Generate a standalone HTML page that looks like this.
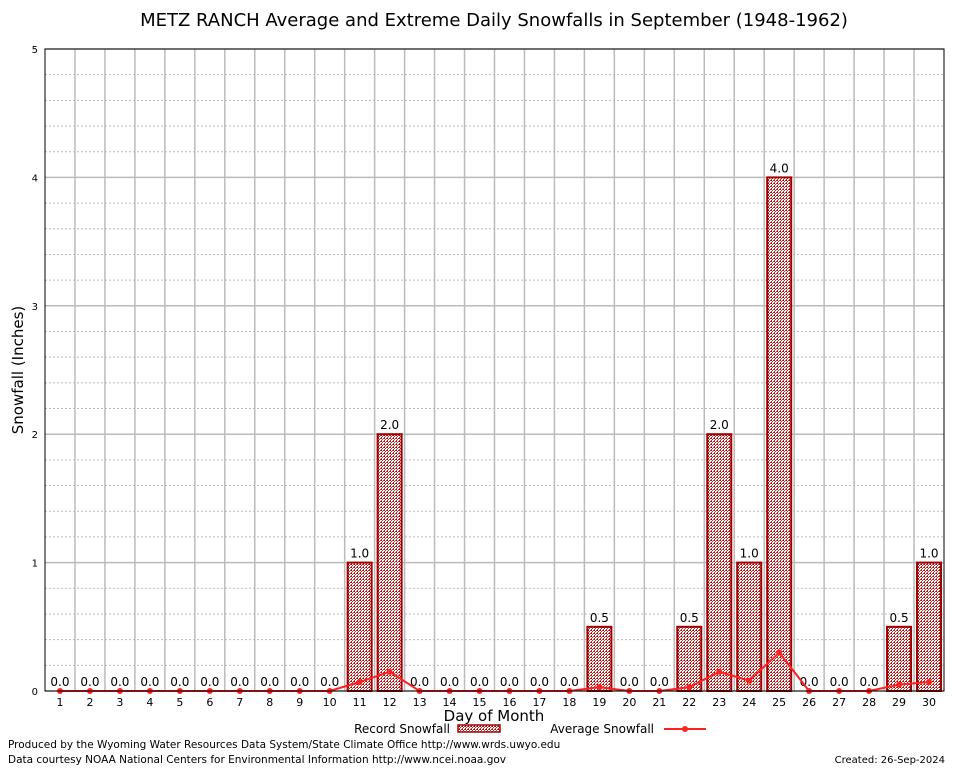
<!DOCTYPE html>
<html><head><meta charset="utf-8"><style>
body{margin:0;background:#fff;font-family:"DejaVu Sans",sans-serif}
svg text{font-family:"DejaVu Sans",sans-serif}
</style></head><body>
<svg id="c" width="954" height="768" xmlns="http://www.w3.org/2000/svg">
<defs><pattern id="chk" width="3" height="3" patternUnits="userSpaceOnUse"><rect width="3" height="3" fill="#fff"/><rect width="1" height="1" fill="#b00000"/><rect x="1" y="1" width="1" height="1" fill="#c03030"/><rect x="2" y="0" width="1" height="1" fill="#c03030"/><rect x="0" y="2" width="1" height="1" fill="#c03030"/></pattern></defs>
<rect x="0" y="0" width="954" height="768" fill="#fff"/>
<text x="494" y="26" font-size="18" text-anchor="middle">METZ RANCH Average and Extreme Daily Snowfalls in September (1948-1962)</text>
<g id="grid"></g><g id="bars"></g><g id="line"></g><g id="axes"></g>
<text x="23" y="370" font-size="15" text-anchor="middle" transform="rotate(-90 23 370)">Snowfall (Inches)</text>
<text x="494" y="721" font-size="15" text-anchor="middle">Day of Month</text>
<g>
<text x="450" y="733" font-size="12" text-anchor="end">Record Snowfall</text>
<rect x="458" y="725" width="42" height="7" fill="url(#chk)" stroke="#a00000" stroke-width="1.5"/>
<text x="654" y="733" font-size="12" text-anchor="end">Average Snowfall</text>
<line x1="664" y1="729" x2="706" y2="729" stroke="#ff2020" stroke-width="2"/>
<circle cx="685" cy="729" r="3" fill="#ff2020"/>
</g>
<text x="8" y="748" font-size="10.5">Produced by the Wyoming Water Resources Data System/State Climate Office http://www.wrds.uwyo.edu</text>
<text x="8" y="763" font-size="10.5">Data courtesy NOAA National Centers for Environmental Information http://www.ncei.noaa.gov</text>
<text x="945" y="763" font-size="10" text-anchor="end">Created:  26-Sep-2024</text>
</svg>
<script>
const days=[1,2,3,4,5,6,7,8,9,10,11,12,13,14,15,16,17,18,19,20,21,22,23,24,25,26,27,28,29,30];
const recordVals=[0,0,0,0,0,0,0,0,0,0,1,2,0,0,0,0,0,0,0.5,0,0,0.5,2,1,4,0,0,0,0.5,1];
const avgVals=[0,0,0,0,0,0,0,0,0,0,0.07,0.15,0,0,0,0,0,0,0.03,0,0,0.03,0.15,0.08,0.3,0,0,0,0.05,0.07];
const yTicks=[0,1,2,3,4,5];
const L=45,R=944,T=49,B=691,yMax=5;
const ns="http://www.w3.org/2000/svg";
const step=(R-L)/days.length;
const xS=d=>L+(d-0.5)*step;
const yS=v=>B-v/yMax*(B-T);
function mk(tag,attrs,parent,txt){const e=document.createElementNS(ns,tag);for(const k in attrs)e.setAttribute(k,attrs[k]);if(txt!==undefined)e.textContent=txt;document.getElementById(parent).appendChild(e);return e;}
for(let v=0;v<yMax;v+=0.2){const y=yS(v);if(Math.abs(v-Math.round(v))<1e-6)continue;
const g=mk('line',{x1:L,x2:R,y1:y,y2:y,stroke:'#bbb','stroke-width':1,'stroke-dasharray':'2,2'},'grid');

}
yTicks.forEach(v=>{const y=yS(v);
const g=mk('line',{x1:L,x2:R,y1:y,y2:y,stroke:'#bbb','stroke-width':1.5},'grid');


const t=mk('text',{x:L-7,y:y+4,'font-size':10,'text-anchor':'end'},'axes',String(v));

});
for(let k=1;k<days.length;k++){const x=L+k*step;
const g=mk('line',{x1:x,x2:x,y1:T,y2:B,stroke:'#bbb','stroke-width':1.5},'grid');

}
days.forEach((d,i)=>{const v=recordVals[i];const x=xS(d);
if(v>0){const b=mk('rect',{x:x-12,y:yS(v),width:24,height:B-yS(v),fill:'url(#chk)',stroke:'#a00000','stroke-width':2},'bars');

}
const t=mk('text',{x:x,y:yS(v)-5,'font-size':12,'text-anchor':'middle'},'bars',v.toFixed(1));


const xl=mk('text',{x:x,y:B+15,'font-size':11,'text-anchor':'middle','font-family':'DejaVu Serif'},'axes',String(d));

});
const pl=mk('polyline',{points:days.map((d,i)=>xS(d)+','+yS(avgVals[i])).join(' '),fill:'none',stroke:'#ff2020','stroke-width':2},'line');


days.forEach((d,i)=>{const c=mk('circle',{cx:xS(d),cy:yS(avgVals[i]),r:3,fill:'#ff2020'},'line');

});
const fr=mk('rect',{x:L,y:T,width:R-L,height:B-T,fill:'none',stroke:'#000','stroke-width':1},'axes');


</script>
</body></html>
